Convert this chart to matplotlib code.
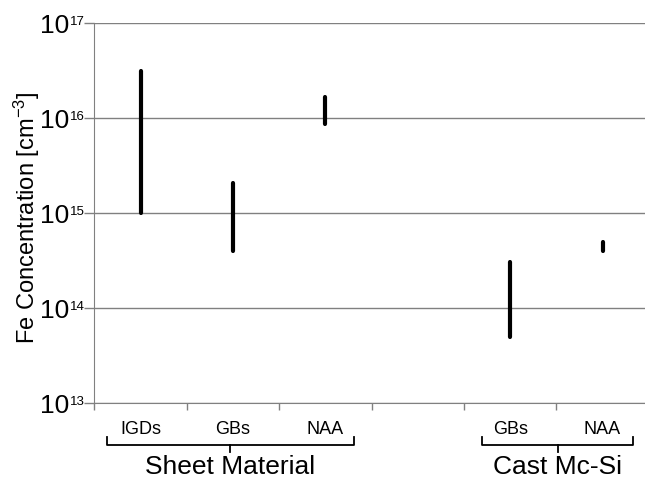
import matplotlib
matplotlib.use("Agg")
import matplotlib.pyplot as plt
import matplotlib.transforms as mtransforms

plt.rcParams['font.family'] = ['Liberation Sans', 'DejaVu Sans']
plt.rcParams['mathtext.fontset'] = 'custom'
plt.rcParams['mathtext.rm'] = 'Liberation Sans'
plt.rcParams['mathtext.it'] = 'Liberation Sans:italic'

# Fe concentration ranges [cm^-3] per feature
x_pos = [0.5, 1.5, 2.5, 4.5, 5.5]
low = [1.0e15, 4.0e14, 8.6e15, 5.0e13, 4.0e14]
high = [3.1e16, 2.07e15, 1.66e16, 3.05e14, 4.95e14]
label_text = ["IGDs", "GBs", "NAA", "GBs", "NAA"]
exponents = [13, 14, 15, 16, 17]

groups = ["Sheet Material", "Cast Mc-Si"]
group_span = [(0.13, 2.81), (4.2, 5.83)]

fig = plt.figure(figsize=(6.45, 4.8), dpi=100)
ax = fig.add_axes([0.1465, 0.1604, 0.8535, 0.7917])

ax.vlines(x_pos, low, high, colors="black", linewidth=3.0, capstyle="round", zorder=3)

ax.set_yscale("log")
ax.set_ylim(1e13, 1e17)
ax.set_xlim(0, 5.96)
ax.set_yticks([10.0 ** e for e in exponents])
ax.set_yticklabels([])
ax.minorticks_off()
ax.set_xticks([0, 1, 2, 3, 4, 5])
ax.set_xticklabels([])
ax.yaxis.grid(True, color="#808080", linewidth=1)
ax.set_axisbelow(True)
ax.tick_params(axis="y", length=7, color="#808080", width=1)
ax.tick_params(axis="x", length=5, color="#808080", width=1)
for s in ["top", "right"]:
    ax.spines[s].set_visible(False)
for s in ["left", "bottom"]:
    ax.spines[s].set_color("#808080")

# y tick labels: 10 with a small exponent
ytrans = mtransforms.blended_transform_factory(ax.transAxes, ax.transData)
for e in exponents:
    ax.annotate(str(e), xy=(0, 10.0 ** e), xycoords=ytrans, xytext=(-7, -1.5),
                textcoords="offset points", ha="right", va="baseline", fontsize=9.5)
    ax.annotate("10", xy=(0, 10.0 ** e), xycoords=ytrans, xytext=(-17.9, -7.2),
                textcoords="offset points", ha="right", va="baseline", fontsize=19)

ax.text(-0.122, 0.487, "Fe Concentration [cm$^{-3}$]", transform=ax.transAxes,
        rotation=90, ha="center", va="center", fontsize=17)

trans = mtransforms.blended_transform_factory(ax.transData, ax.transAxes)
for lx, lt in zip(x_pos, label_text):
    ax.text(lx, -0.071, lt, transform=trans, ha="center", va="center", fontsize=13)

for name, (a, b) in zip(groups, group_span):
    mid = (a + b) / 2
    ax.plot([a, a, b, b], [-0.0895, -0.1105, -0.1105, -0.0895], transform=trans,
            color="black", linewidth=1.3, clip_on=False)
    ax.plot([mid, mid], [-0.1105, -0.129], transform=trans,
            color="black", linewidth=1.3, clip_on=False)
    ax.text(mid, -0.168, name, transform=trans, ha="center", va="center", fontsize=19)

fig.savefig("out.png", dpi=100)
